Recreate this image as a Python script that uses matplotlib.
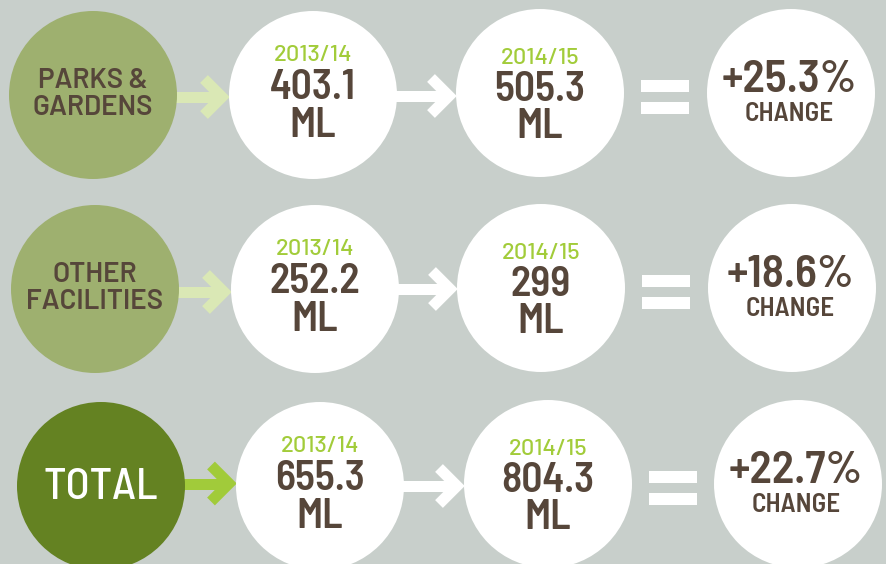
import matplotlib.pyplot as plt
from matplotlib.patches import Circle, Rectangle

# data
categories = ["PARKS &\nGARDENS", "OTHER\nFACILITIES", "TOTAL"]
years = ["2013/14", "2014/15"]
use_1314 = [403.1, 252.2, 655.3]
use_1415 = [505.3, 299, 804.3]
change_pct = [25.3, 18.6, 22.7]

# layout (pixel coords, y down)
centers = [
    [(93, 95), (313, 95), (540, 93), (791, 93)],
    [(95, 289), (315, 289), (541, 288), (792, 288)],
    [(101, 486), (320, 486), (548, 484), (798, 484)],
]
arrow_y = [(97, 96), (292, 289), (483.5, 486)]
R = 84

BG = "#c8cfcb"
BROWN = "#56463a"
YEAR_GREEN = "#a2cc3a"
cat_colors = ["#9eb06f", "#9eb06f", "#648222"]
cat_text = [BROWN, BROWN, "white"]
arrow1_colors = ["#dae8b5", "#dae8b5", "#a1cb3a"]

BIG = ["Barlow Semi Condensed", "DejaVu Sans"]
SMALL = ["Barlow", "DejaVu Sans"]

fig = plt.figure(figsize=(8.86, 5.64), dpi=100)
fig.patch.set_facecolor(BG)
ax = fig.add_axes([0, 0, 1, 1])
ax.set_xlim(0, 886)
ax.set_ylim(564, 0)
ax.axis("off")

px = 0.72  # points per pixel


def arrow(x0, tip, y, color):
    lw = 11 * px
    ax.plot([x0, tip - 8], [y, y], color=color, lw=lw, solid_capstyle="butt", zorder=1)
    L = 18
    v = tip - 8
    ax.plot([v - L, v, v - L], [y - L, y, y + L], color=color, lw=lw,
            solid_capstyle="butt", solid_joinstyle="miter", zorder=1)


for i, row in enumerate(centers):
    (x1, y1), (x2, y2), (x3, y3), (x4, y4) = row

    # circles
    ax.add_patch(Circle((x1, y1), R, color=cat_colors[i], zorder=2, lw=0))
    for (cx, cy) in row[1:]:
        ax.add_patch(Circle((cx, cy), R, color="white", zorder=2, lw=0))

    # arrows
    arrow(x1, x2 - R + 1, arrow_y[i][0], arrow1_colors[i])
    arrow(x2, x3 - R + 1, arrow_y[i][1], "white")

    # equals sign
    ex = (x3 + R + x4 - R) / 2
    ey = (y3 + y4) / 2 + 4
    for dy in (-11, 11):
        ax.add_patch(Rectangle((ex - 24, ey + dy - 6.25), 48, 12.5, color="white", lw=0, zorder=2))

    # category text
    if i < 2:
        l1, l2 = categories[i].split("\n")
        ax.text(x1, y1 - 7.5, l1, ha="center", va="baseline", color=cat_text[i],
                fontsize=20, family=SMALL, fontweight="semibold", zorder=3)
        ax.text(x1, y1 + 20, l2, ha="center", va="baseline", color=cat_text[i],
                fontsize=20, family=SMALL, fontweight="semibold", zorder=3)
    else:
        ax.text(x1, y1 + 13, categories[i], ha="center", va="baseline", color=cat_text[i],
                fontsize=32, family=BIG, fontweight="medium", zorder=3)

    # 2013/14
    ax.text(x2, y2 - 34, years[0], ha="center", va="baseline", color=YEAR_GREEN,
            fontsize=17, family=SMALL, fontweight="medium", zorder=3)
    ax.text(x2, y2 + 4, f"{use_1314[i]:g}", ha="center", va="baseline", color=BROWN,
            fontsize=30, family=BIG, fontweight="semibold", zorder=3)
    ax.text(x2, y2 + 42, "ML", ha="center", va="baseline", color=BROWN,
            fontsize=30, family=BIG, fontweight="semibold", zorder=3)

    # 2014/15
    ax.text(x3, y3 - 29, years[1], ha="center", va="baseline", color=YEAR_GREEN,
            fontsize=17, family=SMALL, fontweight="medium", zorder=3)
    ax.text(x3, y3 + 8, f"{use_1415[i]:g}", ha="center", va="baseline", color=BROWN,
            fontsize=30, family=BIG, fontweight="semibold", zorder=3)
    ax.text(x3, y3 + 45, "ML", ha="center", va="baseline", color=BROWN,
            fontsize=30, family=BIG, fontweight="semibold", zorder=3)

    # change
    ax.text(x4 - 2, y4 - 1, f"+{change_pct[i]}%", ha="center", va="baseline", color=BROWN,
            fontsize=33, family=BIG, fontweight="semibold", zorder=3)
    ax.text(x4 - 2, y4 + 28, "CHANGE", ha="center", va="baseline", color=BROWN,
            fontsize=19.5, family=BIG, fontweight="semibold", zorder=3)

fig.savefig("out.png", dpi=100, facecolor=BG)
